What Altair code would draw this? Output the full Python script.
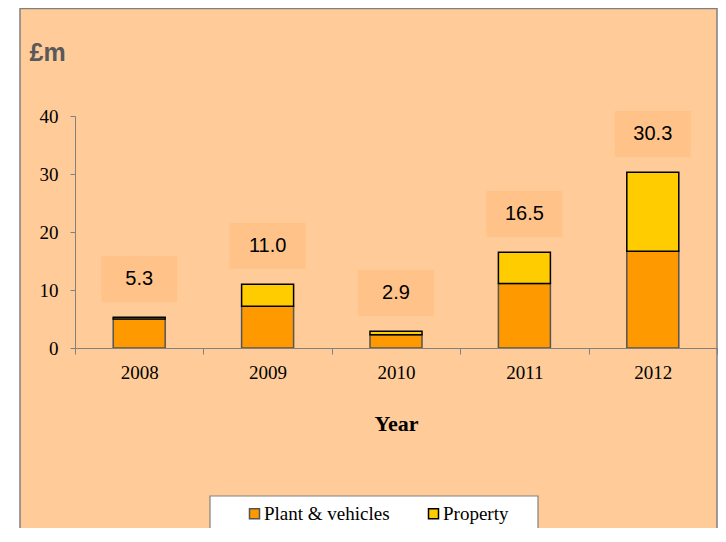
import altair as alt
import pandas as pd

years = ["2008", "2009", "2010", "2011", "2012"]
plant = [5.0, 7.2, 2.3, 11.1, 16.7]
prop = [0.3, 3.8, 0.6, 5.4, 13.6]
series = ["Plant & vehicles", "Property"]
fills = ["#FF9900", "#FFCC00"]
strokes = ["#555555", "#000000"]

long_rows = []
for i, y in enumerate(years):
    long_rows.append({"year": y, "series": series[0], "value": plant[i], "ord": 0})
    long_rows.append({"year": y, "series": series[1], "value": prop[i], "ord": 1})
df = pd.DataFrame(long_rows)
tot = pd.DataFrame({"year": years, "plant": plant, "prop": prop})

W, H = 642, 232
yscale = alt.Scale(domain=[0, 40], nice=False)
xscale = alt.Scale(paddingInner=0, paddingOuter=0)

xaxis = alt.Axis(
    title="Year", labelAngle=0, tickBand="extent", domainColor="#808080",
    tickColor="#808080", tickSize=6, labelFont="Liberation Serif", labelFontSize=19,
    labelColor="black", labelPadding=9, titleFont="Liberation Serif", titleFontSize=22,
    titleFontWeight="bold", titleColor="black", titlePadding=31, grid=False, zindex=1)
yaxis = alt.Axis(
    title="£m", values=[0, 10, 20, 30, 40], tickSize=5, domainColor="#808080",
    tickColor="#808080", labelFont="Liberation Serif", labelFontSize=19,
    labelColor="black", labelPadding=12, grid=False, titleAngle=0,
    titleX=-46, titleY=-64, titleAlign="left", titleBaseline="middle",
    titleFont="Liberation Sans", titleFontSize=25, titleFontWeight="bold",
    titleColor="#595959", zindex=1)

one = pd.DataFrame({"a": [0]})
bg = alt.Chart(one).mark_rect(fill="#FFCC99", stroke="#808080", strokeWidth=1.5).encode(
    x=alt.value(-55), x2=alt.value(642), y=alt.value(-107.5), y2=alt.value(440)
)
legbox = alt.Chart(one).mark_rect(fill="white", stroke="#808080", strokeWidth=1.2).encode(
    x=alt.value(135), x2=alt.value(463), y=alt.value(380), y2=alt.value(440)
)

base_t = alt.Chart(tot).transform_calculate(
    total="datum.plant + datum.prop"
).transform_calculate(
    center="datum.total + 6.6",
    lo="datum.total + 2.6",
    hi="datum.total + 10.6",
    lab="format(datum.total, '.1f')",
)

boxes = base_t.mark_bar(size=76, color="#FFC38A").encode(
    x=alt.X("year:N", scale=xscale, axis=xaxis),
    y=alt.Y("lo:Q", scale=yscale, axis=yaxis),
    y2="hi:Q",
)

leg = dict(
    orient="none", legendX=170, legendY=388, direction="horizontal", title=None,
    symbolType="square", symbolSize=100, symbolStrokeWidth=1.5, symbolOpacity=1,
    labelFont="Liberation Serif", labelFontSize=19, labelColor="black",
    columnPadding=34, labelOffset=0, padding=0, zindex=2,
)

bars = alt.Chart(df).mark_bar(size=52, strokeWidth=1.5, opacity=1).encode(
    x=alt.X("year:N", scale=xscale, axis=xaxis),
    y=alt.Y("value:Q", stack="zero", scale=yscale, axis=yaxis),
    fill=alt.Fill("series:N", scale=alt.Scale(domain=series, range=fills), legend=alt.Legend(**leg)),
    stroke=alt.Stroke("series:N", scale=alt.Scale(domain=series, range=strokes), legend=alt.Legend(**leg)),
    order=alt.Order("ord:Q"),
)

labels = base_t.mark_text(font="Liberation Sans", fontSize=20, color="black", baseline="middle").encode(
    x=alt.X("year:N", scale=xscale, axis=xaxis),
    y=alt.Y("center:Q", scale=yscale, axis=yaxis),
    text="lab:N",
)

chart = alt.layer(bg, legbox, boxes, bars, labels).properties(
    width=W, height=H,
    autosize=alt.AutoSizeParams(type="none"),
    padding={"left": 67, "top": 108, "right": 1, "bottom": 180},
    background="white",
).configure_view(stroke=None)

chart.save("out.html", embed_options={"renderer": "svg", "actions": False})
